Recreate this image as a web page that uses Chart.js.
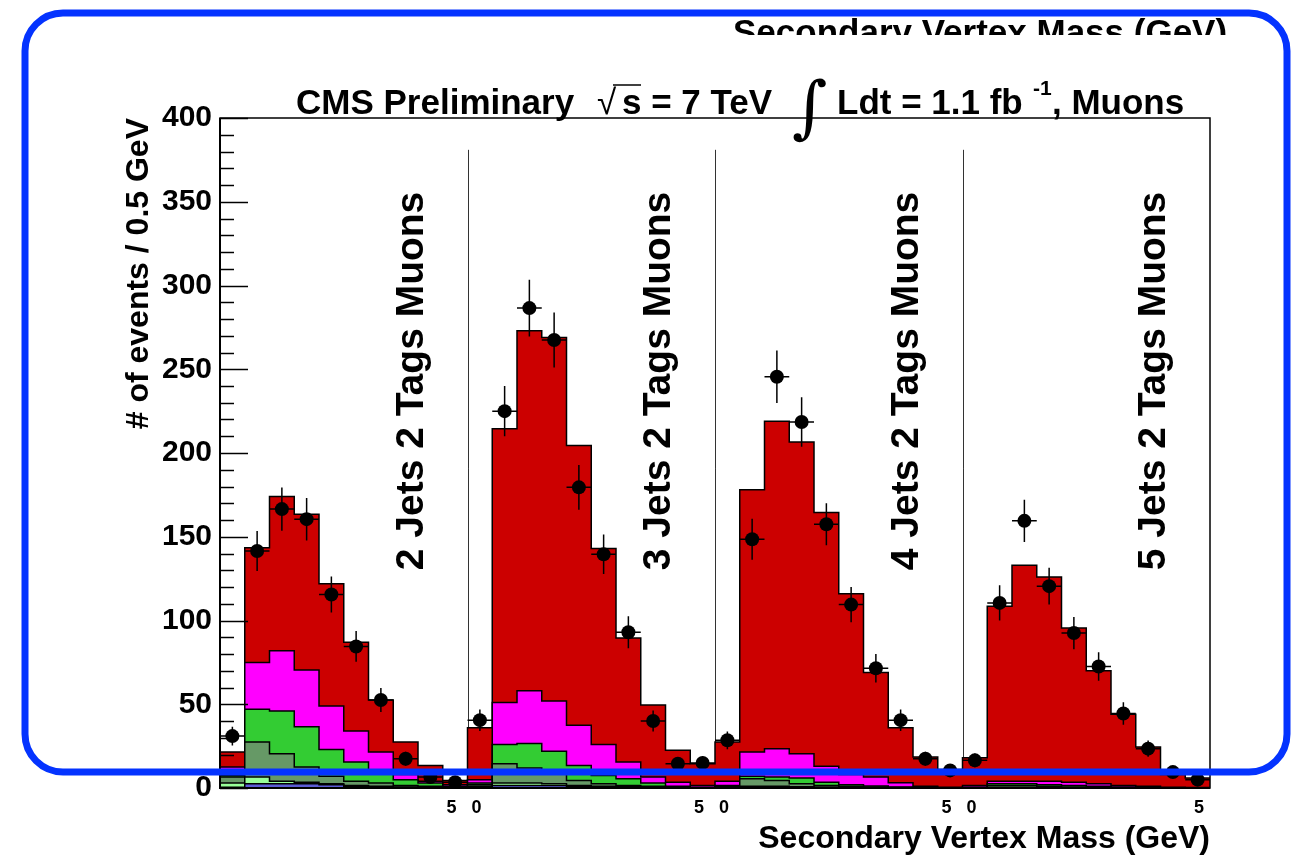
<!DOCTYPE html>
<html>
<head>
<meta charset="utf-8">
<script src="https://cdn.jsdelivr.net/npm/chart.js@4.4.1/dist/chart.umd.min.js"></script>
<style>
html,body{margin:0;padding:0;background:#fff;}
canvas{display:block;}
</style>
</head>
<body>
<canvas id="c" width="1303" height="858"></canvas>
<script>
// ---------------- DATA ----------------
// 40 bins of 0.5 GeV: 4 panels (2,3,4,5 jets) x 10 bins (0-5 GeV)
const panelLabels = ['2 Jets 2 Tags Muons', '3 Jets 2 Tags Muons', '4 Jets 2 Tags Muons', '5 Jets 2 Tags Muons'];
const xTickValues = [10, 20, 30, 40];
const xTickLabels = ['5   0', '5   0', '5   0', '5   '];
const panelBounds = [10, 20, 30];

// stacked MC components, bottom to top (events per bin)
const compViolet = [
  0.5, 2.5, 2.5, 2.5, 2, 1, 0.5, 0.3, 0.2, 0.1,
  0.5, 1.5, 1.5, 1.5, 1, 0.5, 0.3, 0.2, 0.1, 0.05,
  0.2, 0.5, 0.5, 0.4, 0.3, 0.2, 0.1, 0.05, 0.05, 0.02,
  0.05, 0.2, 0.2, 0.1, 0.1, 0.05, 0.05, 0.02, 0.01, 0.01];
const compPaleGreen = [
  2.5, 4, 1.5, 1, 0.5, 0.5, 0.5, 0.3, 0.2, 0.1,
  0.5, 1.5, 1.5, 1, 0.5, 0.5, 0.4, 0.2, 0.1, 0.05,
  0.3, 0.5, 0.5, 0.3, 0.2, 0.1, 0.1, 0.05, 0.05, 0.03,
  0.05, 0.2, 0.2, 0.2, 0.1, 0.05, 0.05, 0.03, 0.02, 0.01];
const compSage = [
  3.5, 21, 16.5, 9, 4.5, 2.5, 2, 0.9, 0.6, 0.3,
  1, 11.5, 9, 8, 3, 1.5, 0.8, 0.6, 0.2, 0.1,
  0.5, 4.5, 3.5, 1.8, 1, 0.7, 0.4, 0.2, 0.1, 0.05,
  0.2, 1.1, 1.1, 0.7, 0.4, 0.3, 0.1, 0.05, 0.07, 0.03];
const compGreen = [
  1, 19.5, 25.5, 24, 16, 11.5, 6, 3.5, 2, 0.5,
  1, 11.5, 14.5, 11.5, 9, 5, 4, 2, 0.6, 0.3,
  0.5, 1.5, 2, 3.5, 2, 1, 0.6, 0.3, 0.1, 0.1,
  0.2, 1, 1, 1, 0.9, 0.6, 0.4, 0.2, 0.1, 0.05];
const compMagenta = [
  5, 28, 36, 34, 26, 18.5, 12.5, 3, 1, 1,
  2, 25, 31.5, 30, 24, 18.5, 10, 3.5, 2.5, 1,
  2.5, 14.5, 17, 14.5, 9.5, 6, 5.3, 2.6, 0.7, 0.3,
  1, 1.5, 1.5, 2, 2, 1.5, 0.9, 0.7, 0.3, 0.2];
const compRed = [
  9, 68.5, 92, 93, 73, 53, 31, 19.5, 9.5, 2.5,
  31, 163.5, 215, 217, 167, 117, 74, 43, 19, 13,
  23.5, 156.5, 195.5, 186, 151.5, 108, 62.5, 32.8, 17.5, 10.5,
  16.5, 104.5, 129, 122, 92, 67.5, 42.5, 23.5, 7.5, 5.7];

// observed data and its uncertainties
const dataObs = [
  31, 141.5, 166.5, 160.5, 115.5, 84.5, 52.5, 17.5, 6.5, 3.5,
  40.5, 225, 286.5, 267.5, 179.5, 139.5, 93, 40, 14.5, 15,
  28.5, 148.5, 245.5, 218.5, 157.5, 109.5, 71.5, 40.5, 17.5, 10.5,
  16.5, 110.5, 159.5, 120.5, 92.5, 72.5, 44.5, 23.5, 9.5, 5];
const dataErr = [
  5.6, 11.9, 12.9, 12.7, 10.7, 9.2, 7.2, 4.2, 2.5, 1.9,
  6.4, 15, 16.9, 16.4, 13.4, 11.8, 9.6, 6.3, 3.8, 3.9,
  5.3, 12.2, 15.7, 14.8, 12.5, 10.5, 8.5, 6.4, 4.2, 3.2,
  4.1, 10.5, 12.6, 11, 9.6, 8.5, 6.7, 4.8, 3.1, 2.2];

const separatorTop = 381;
const xTitle = 'Secondary Vertex Mass (GeV)';
const yTitle = '# of events / 0.5 GeV';

// ---------------- RENDERING ----------------
const FAM = '"Liberation Sans", Arial, Helvetica, sans-serif';
const NB = dataObs.length;

function stepPoints(vals) {
  const pts = vals.map((v, i) => ({x: i, y: v}));
  pts.push({x: NB, y: vals[NB - 1]});
  return pts;
}
function histDataset(vals, color, fill) {
  return {
    data: stepPoints(vals),
    stepped: true,
    backgroundColor: color,
    borderColor: '#000',
    borderWidth: 1.5,
    pointRadius: 0,
    fill: fill
  };
}

const decor = {
  id: 'decor',
  beforeDatasetsDraw(chart) {
    const {ctx, scales: {x, y}} = chart;
    ctx.save();
    ctx.strokeStyle = '#333';
    ctx.lineWidth = 1;
    for (const b of panelBounds) {
      const px = Math.round(x.getPixelForValue(b)) + 0.5;
      ctx.beginPath();
      ctx.moveTo(px, y.getPixelForValue(separatorTop));
      ctx.lineTo(px, y.getPixelForValue(0));
      ctx.stroke();
    }
    ctx.restore();
  },
  afterDatasetsDraw(chart) {
    const {ctx, chartArea: ca, scales: {x, y}} = chart;
    ctx.save();
    // error bars
    ctx.strokeStyle = '#000';
    ctx.lineWidth = 1.5;
    for (let i = 0; i < NB; i++) {
      const cx = x.getPixelForValue(i + 0.5);
      const cy = y.getPixelForValue(dataObs[i]);
      ctx.beginPath();
      ctx.moveTo(cx, y.getPixelForValue(dataObs[i] - dataErr[i]));
      ctx.lineTo(cx, y.getPixelForValue(dataObs[i] + dataErr[i]));
      ctx.moveTo(x.getPixelForValue(i), cy);
      ctx.lineTo(x.getPixelForValue(i + 1), cy);
      ctx.stroke();
    }
    // frame
    ctx.lineWidth = 1.5;
    ctx.strokeRect(ca.left, ca.top, ca.right - ca.left, ca.bottom - ca.top);
    ctx.lineWidth = 2;
    ctx.beginPath();
    ctx.moveTo(ca.left, ca.top); ctx.lineTo(ca.left, ca.bottom); ctx.lineTo(ca.right, ca.bottom);
    ctx.stroke();
    // y ticks inside
    ctx.lineWidth = 1.5;
    for (let v = 0; v <= 400; v += 10) {
      const py = Math.round(y.getPixelForValue(v)) + 0.5;
      const len = (v % 50 === 0) ? 28 : 14;
      ctx.beginPath();
      ctx.moveTo(ca.left, py); ctx.lineTo(ca.left + len, py);
      ctx.stroke();
    }
    // panel labels
    ctx.fillStyle = '#000';
    ctx.font = 'bold 39px ' + FAM;
    ctx.textAlign = 'left';
    ctx.textBaseline = 'alphabetic';
    panelLabels.forEach((t, k) => {
      ctx.save();
      ctx.translate(x.getPixelForValue(k * 10 + 8.2), y.getPixelForValue(130));
      ctx.rotate(-Math.PI / 2);
      ctx.fillText(t, 0, 0);
      ctx.restore();
    });
    // title
    ctx.font = 'bold 35px ' + FAM;
    ctx.fillText('CMS Preliminary', 296, 114);
    ctx.font = '35px ' + FAM;
    ctx.fillText('\u221A', 597, 114);
    ctx.beginPath();
    ctx.lineWidth = 1.5;
    ctx.moveTo(613, 85); ctx.lineTo(641, 85);
    ctx.stroke();
    ctx.font = 'bold 35px ' + FAM;
    ctx.fillText('s = 7 TeV', 622, 114);
    ctx.font = '68px "DejaVu Serif", "DejaVu Sans", serif';
    ctx.fillText('\u222B', 792, 130);
    ctx.font = 'bold 35px ' + FAM;
    ctx.fillText('Ldt = 1.1 fb', 837, 114);
    ctx.font = 'bold 21px ' + FAM;
    ctx.fillText('-1', 1033, 95);
    ctx.font = 'bold 35px ' + FAM;
    ctx.fillText(', Muons', 1052, 114);
    // cut-off text at top
    ctx.save();
    ctx.beginPath();
    ctx.rect(0, 0, 1303, 35);
    ctx.clip();
    ctx.font = 'bold 35px ' + FAM;
    ctx.fillText(xTitle, 733, 44);
    ctx.restore();
    // blue rounded box overlay
    ctx.strokeStyle = '#0433ff';
    ctx.lineWidth = 7;
    ctx.beginPath();
    ctx.roundRect(25, 13, 1287 - 25, 772 - 13, 38);
    ctx.stroke();
    ctx.restore();
  }
};

new Chart(document.getElementById('c'), {
  type: 'line',
  data: {
    datasets: [
      histDataset(compViolet, '#5c5cd6', 'origin'),
      histDataset(compPaleGreen, '#99ff99', '-1'),
      histDataset(compSage, '#669966', '-1'),
      histDataset(compGreen, '#33cc33', '-1'),
      histDataset(compMagenta, '#ff00ff', '-1'),
      histDataset(compRed, '#cc0000', '-1'),
      {
        data: dataObs.map((v, i) => ({x: i + 0.5, y: v})),
        showLine: false,
        pointRadius: 7,
        pointBackgroundColor: '#000',
        pointBorderWidth: 0,
        stack: 'obs',
        order: -1,
        fill: false
      }
    ]
  },
  options: {
    responsive: false,
    animation: false,
    events: [],
    layout: {padding: {top: 118, right: 93, left: 0, bottom: 0}},
    plugins: {legend: {display: false}, tooltip: {enabled: false}},
    scales: {
      x: {
        type: 'linear', min: 0, max: NB,
        grid: {display: false, drawTicks: false},
        border: {display: false},
        afterBuildTicks: s => { s.ticks = xTickValues.map(v => ({value: v})); },
        afterFit: s => { s.height = 70; },
        ticks: {
          callback: v => xTickLabels[xTickValues.indexOf(v)],
          labelOffset: -3.5, padding: 9, autoSkip: false, maxRotation: 0,
          color: '#000', font: {family: FAM, weight: 'bold', size: 18}
        },
        title: {
          display: true, text: xTitle, align: 'end', color: '#000',
          font: {family: FAM, weight: 'bold', size: 32}, padding: {top: 0, bottom: 0}
        }
      },
      y: {
        stacked: true, min: 0, max: 400,
        grid: {display: false, drawTicks: false},
        border: {display: false},
        afterFit: s => { s.width = 220; },
        ticks: {stepSize: 50, padding: 8, color: '#000', font: {family: FAM, weight: 'bold', size: 30}},
        title: {
          display: true, text: yTitle, align: 'end', color: '#000',
          font: {family: FAM, weight: 'bold', size: 32}, padding: {top: 120, bottom: 0}
        }
      }
    }
  },
  plugins: [decor]
});
</script>
</body>
</html>
